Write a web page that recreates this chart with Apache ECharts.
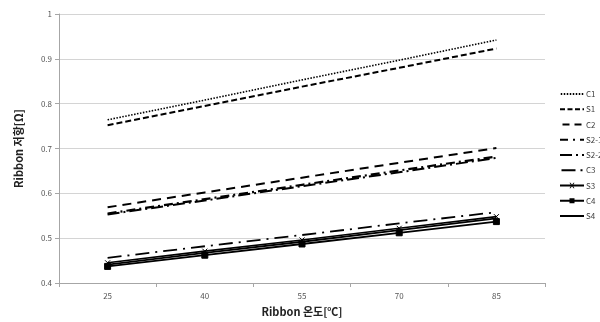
<!DOCTYPE html>
<html><head><meta charset="utf-8">
<script src="https://cdn.jsdelivr.net/npm/echarts@6/dist/echarts.min.js"></script>
<style>html,body{margin:0;padding:0;background:#fff}#c{width:600px;height:322px}</style>
</head><body><div id="c"></div>
<script>
const categories = ['25', '40', '55', '70', '85'];
const C1 = [0.764, 0.808, 0.853, 0.897, 0.942];
const S1 = [0.752, 0.795, 0.838, 0.880, 0.923];
const C2 = [0.569, 0.602, 0.635, 0.668, 0.701];
const S2_1 = [0.555, 0.587, 0.619, 0.651, 0.682];
const S2_2 = [0.553, 0.584, 0.616, 0.647, 0.679];
const C3 = [0.456, 0.482, 0.507, 0.533, 0.558];
const S3 = [0.445, 0.471, 0.496, 0.522, 0.548];
const C4 = [0.437, 0.462, 0.487, 0.512, 0.537];
const S4 = [0.441, 0.467, 0.492, 0.518, 0.544];
const seriesNames = ['C1', 'S1', 'C2', 'S2-1', 'S2-2', 'C3', 'S3', 'C4', 'S4'];
const seriesData = [C1, S1, C2, S2_1, S2_2, C3, S3, C4, S4];
const styles = [
  {type: [1.5, 1.5], width: 1.6, symbol: 'none'},
  {type: [6, 3], width: 2, symbol: 'none'},
  {type: [9, 6], width: 2, symbol: 'none'},
  {type: [9, 4, 2, 4], width: 2.2, symbol: 'none'},
  {type: [12, 4, 2, 4], width: 2, symbol: 'none'},
  {type: [14, 6, 2, 6], width: 1.8, symbol: 'none'},
  {type: 'solid', width: 1.6, symbol: 'path://M0,0L10,10M10,0L0,10', size: 5},
  {type: 'solid', width: 1.8, symbol: 'rect', size: 6},
  {type: 'solid', width: 1.8, symbol: 'none'}
];
// legend icon paths in a 24 x 8 box
function iconPath(pattern, extra) {
  const W = 24, y0 = 3.1, y1 = 4.9;
  let d = 'M0,0h0.01M0,8h0.01';
  let x = 0, k = 0;
  const pat = pattern || [W, 0];
  while (x < W) {
    const len = pat[k % pat.length];
    if (k % 2 === 0) {
      const e = Math.min(W, x + len);
      d += 'M' + x + ',' + y0 + 'L' + e + ',' + y0 + 'L' + e + ',' + y1 + 'L' + x + ',' + y1 + 'Z';
    }
    x += len; k++;
  }
  return 'path://' + d + (extra || '');
}
const legendIcons = [
  iconPath([1.5, 1.5]),
  iconPath([5, 2.5]),
  iconPath([7, 5]),
  iconPath([8, 5, 2, 5]),
  iconPath([12, 4, 2, 4]),
  iconPath([14, 5, 2, 5]),
  iconPath(null, 'M9.5,1.2L10.5,1.2L14.5,6.8L13.5,6.8ZM13.5,1.2L14.5,1.2L10.5,6.8L9.5,6.8Z'),
  iconPath(null, 'M9.5,1.5L14.5,1.5L14.5,6.5L9.5,6.5Z'),
  iconPath(null)
];
const chart = echarts.init(document.getElementById('c'), null, {renderer: 'canvas'});
chart.setOption({
  animation: false,
  backgroundColor: '#fff',
  textStyle: {fontFamily: '"Noto Sans CJK KR", "Open Sans", sans-serif'},
  grid: {left: 59, right: 55, top: 14, bottom: 38, containLabel: false},
  legend: {
    orient: 'vertical', left: 555, top: 85,
    itemWidth: 24, itemHeight: 8, itemGap: 7.25,
    textStyle: {fontSize: 8, color: '#404040', padding: [0, 0, 0, -3]},
    itemStyle: {color: '#000', borderWidth: 0},
    data: seriesNames.map((n, i) => ({name: n, icon: legendIcons[i]}))
  },
  xAxis: {
    type: 'category', data: categories, boundaryGap: true,
    name: 'Ribbon 온도[℃]', nameLocation: 'middle', nameGap: 23,
    nameTextStyle: {fontSize: 11, fontWeight: 'bold', color: '#222'},
    axisLine: {lineStyle: {color: '#a6a6a6'}},
    axisTick: {show: true, length: 4, lineStyle: {color: '#a6a6a6'}},
    axisLabel: {fontSize: 8, color: '#555', margin: 9},
    splitLine: {show: false}
  },
  yAxis: {
    type: 'value', min: 0.4, max: 1, interval: 0.1,
    name: 'Ribbon 저항[Ω]', nameLocation: 'middle', nameGap: 35, nameRotate: 90,
    nameTextStyle: {fontSize: 11, fontWeight: 'bold', color: '#222'},
    axisLine: {show: true, lineStyle: {color: '#a6a6a6'}},
    axisTick: {show: true, length: 4, lineStyle: {color: '#a6a6a6'}},
    axisLabel: {fontSize: 8, color: '#555', margin: 7, formatter: v => String(Math.round(v * 10) / 10)},
    splitLine: {show: true, lineStyle: {color: '#d4d4d4', width: 1}}
  },
  series: seriesNames.map((n, i) => ({
    name: n, type: 'line', data: seriesData[i],
    symbol: styles[i].symbol, symbolSize: styles[i].size || 0, showSymbol: styles[i].symbol !== 'none',
    itemStyle: {color: '#000', borderColor: '#000'},
    lineStyle: {color: '#000', width: styles[i].width, type: styles[i].type},
    emphasis: {disabled: true}
  }))
});
</script></body></html>
